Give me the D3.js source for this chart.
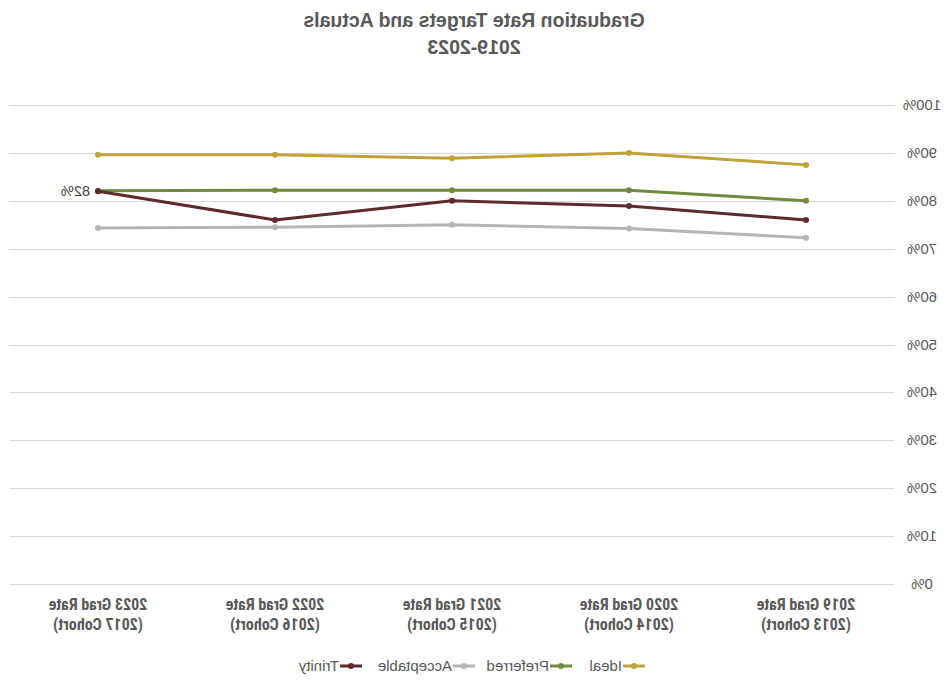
<!DOCTYPE html>
<html><head><meta charset="utf-8">
<script src="https://cdn.jsdelivr.net/npm/d3@7"></script>
<style>body{margin:0;background:#fff}svg{display:block}</style>
</head><body>
<svg id="c" width="948" height="687"></svg>
<script>
const categories = ["2019 Grad Rate|(2013 Cohort)","2020 Grad Rate|(2014 Cohort)","2021 Grad Rate|(2015 Cohort)","2022 Grad Rate|(2016 Cohort)","2023 Grad Rate|(2017 Cohort)"];
const seriesNames = ["Ideal","Preferred","Acceptable","Trinity"];
const ideal = [87.5, 90.0, 88.9, 89.6, 89.6];
const preferred = [80.0, 82.2, 82.2, 82.2, 82.1];
const acceptable = [72.3, 74.2, 75.0, 74.5, 74.3];
const trinity = [76.0, 78.9, 80.0, 76.0, 82.0];
const colors = ["#BFA23A","#6F8B3E","#B5B5B5","#5C2B2B"];
const yTicks = [0,10,20,30,40,50,60,70,80,90,100];

const series = [ideal, preferred, acceptable, trinity];
const svg = d3.select("#c");
const root = svg.append("g").attr("transform","translate(948,0) scale(-1,1)");

const x = d3.scaleBand().domain(categories).range([53.5, 938.5]);
const y = d3.scaleLinear().domain([0,100]).range([584, 105]);

// gridlines
root.append("g").selectAll("line").data(yTicks).join("line")
  .attr("x1",53.5).attr("x2",938.5)
  .attr("y1",d=>Math.round(y(d))+0.5).attr("y2",d=>Math.round(y(d))+0.5)
  .attr("stroke","#d9d9d9").attr("stroke-width",1);

// y labels
root.append("g").selectAll("text").data(yTicks).join("text")
  .attr("x",26).attr("y",d=>y(d)+5).attr("text-anchor","middle")
  .attr("font-family","'Liberation Sans', Arial, sans-serif").attr("font-size",15)
  .attr("fill","#595959").text(d=>d+"%");

// x labels
const xl = root.append("g").selectAll("text").data(categories).join("text")
  .attr("x",d=>x(d)+x.bandwidth()/2).attr("y",610).attr("text-anchor","middle")
  .attr("font-family","'Liberation Sans Narrow','Roboto Condensed','Liberation Sans',sans-serif")
  .attr("font-weight","bold").attr("font-size",16).attr("fill","#595959");
xl.each(function(d){
  const parts=d.split("|");
  d3.select(this).selectAll("tspan").data(parts).join("tspan")
    .attr("x",x(d)+x.bandwidth()/2).attr("dy",(p,i)=>i?20:0).text(p=>p);
});

// lines
const line = d3.line().x((v,i)=>x(categories[i])+x.bandwidth()/2).y(v=>y(v));
series.forEach((s,k)=>{
  root.append("path").datum(s).attr("d",line).attr("fill","none")
    .attr("stroke",colors[k]).attr("stroke-width",3).attr("stroke-linejoin","round").attr("stroke-linecap","round");
});
series.forEach((s,k)=>{
  root.append("g").selectAll("circle").data(s).join("circle")
    .attr("cx",(v,i)=>x(categories[i])+x.bandwidth()/2).attr("cy",v=>y(v)).attr("r",3)
    .attr("fill",colors[k]);
});

// data label
const li = 4;
root.append("text").attr("x",x(categories[li])+x.bandwidth()/2+8).attr("y",y(trinity[li])+5)
  .attr("font-family","'Liberation Sans', Arial, sans-serif").attr("font-size",14.5).attr("fill","#404040")
  .text(trinity[li]+"%");

// legend
const legX = [303, 376, 473, 586];
const lg = root.append("g");
seriesNames.forEach((n,k)=>{
  const g = lg.append("g").attr("transform",`translate(${legX[k]},666)`);
  g.append("line").attr("x1",0).attr("x2",22).attr("y1",0).attr("y2",0).attr("stroke",colors[k]).attr("stroke-width",3);
  g.append("circle").attr("cx",11).attr("cy",0).attr("r",3).attr("fill",colors[k]);
  g.append("text").attr("x",23).attr("y",5).attr("font-family","'Liberation Sans', Arial, sans-serif")
    .attr("font-size",15).attr("fill","#595959").text(n);
});

// title
const t = root.append("text").attr("x",474).attr("y",27).attr("text-anchor","middle")
  .attr("font-family","'Liberation Sans', Arial, sans-serif").attr("font-weight","bold")
  .attr("font-size",19.5).attr("fill","#595959");
t.append("tspan").attr("x",474).text("Graduation Rate Targets and Actuals");
t.append("tspan").attr("x",474).attr("dy",27).text("2019-2023");
</script>
</body></html>
